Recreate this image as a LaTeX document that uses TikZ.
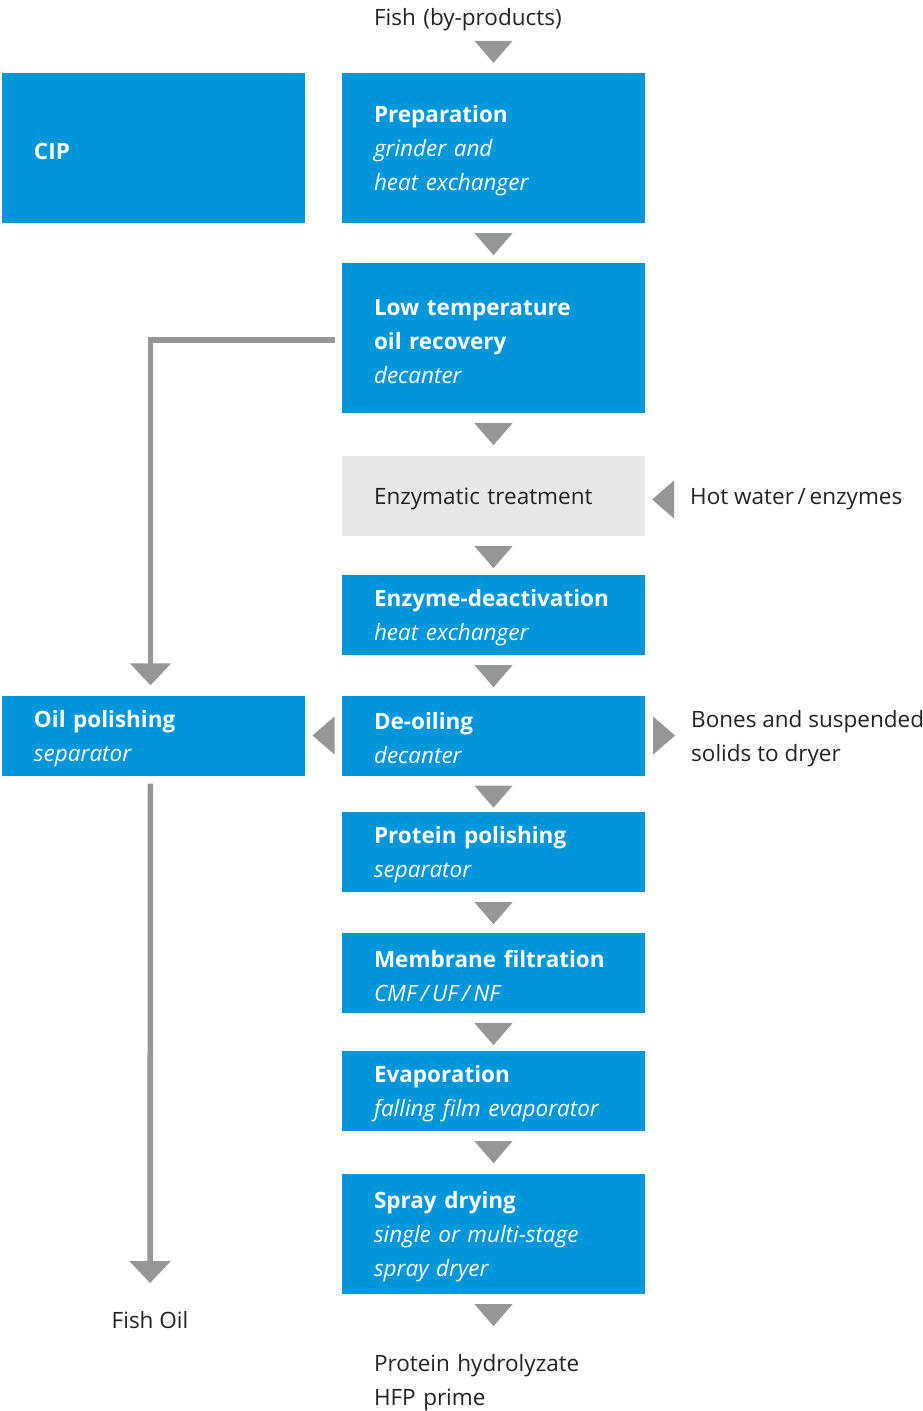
\documentclass[tikz,border=0pt]{standalone}
\usepackage{fontspec}
\setmainfont{Open Sans}
\usetikzlibrary{arrows.meta,decorations.markings}
\definecolor{gblue}{RGB}{0,150,218}
\definecolor{tgray}{RGB}{150,150,150}
\definecolor{lgray}{RGB}{232,232,232}
\definecolor{ink}{RGB}{34,34,34}
\begin{document}
\begin{tikzpicture}[x=1pt, y=-1pt, font=\fontsize{22.5}{34}\selectfont, text=ink,
  proc node/.style={rectangle, fill=gblue, text=white, text width=239pt, inner xsep=32pt, inner ysep=0pt, minimum width=303pt, align=left, execute at begin node={\rule{0pt}{23pt}}},
  grey node/.style={proc node, fill=lgray, text=ink},
  out node/.style={text width=239pt, inner xsep=32pt, inner ysep=0pt, align=left},
  side node/.style={inner xsep=9pt, inner ysep=0pt, align=left, anchor=west},
  flow/.style={postaction={decorate}, decoration={markings, mark=at position #1 with {\fill[tgray] (11pt,0pt) -- (-11pt,19pt) -- (-11pt,-19pt) -- cycle;}}},
  flow/.default=21pt,
  oil line/.style={draw=tgray, line width=5.5pt, -{Triangle[width=40pt,length=22pt]}}]
\useasboundingbox (0,0) rectangle (923,1411);
% main column
\node [out node](fish) at (493.5,19.5) {Fish (by-products)};
\node [proc node,minimum height=150pt](prep) at (493.5,148) {\textbf{Preparation}\\\textit{grinder and}\\\textit{heat exchanger}};
\node [proc node,minimum height=150pt](lowt) at (493.5,338) {\textbf{Low temperature}\\\textbf{oil recovery}\\\textit{decanter}};
\node [grey node,minimum height=80pt](enz) at (493.5,496) {Enzymatic treatment};
\node [proc node,minimum height=80pt](deact) at (493.5,615) {\textbf{Enzyme-deactivation}\\\textit{heat exchanger}};
\node [proc node,minimum height=80pt](deoil) at (493.5,735.5) {\textbf{De-oiling}\\\textit{decanter}};
\node [proc node,minimum height=80pt](prot) at (493.5,852) {\textbf{Protein polishing}\\\textit{separator}};
\node [proc node,minimum height=80pt](memb) at (493.5,973) {\textbf{Membrane filtration}\\\textit{CMF\,/\,UF\,/\,NF}};
\node [proc node,minimum height=80pt](evap) at (493.5,1091) {\textbf{Evaporation}\\\textit{falling film evaporator}};
\node [proc node,minimum height=120pt](spray) at (493.5,1234) {\textbf{Spray drying}\\\textit{single or multi-stage}\\\textit{spray dryer}};
\node [out node](prod) at (493.5,1382.5) {Protein hydrolyzate\\HFP prime};
% left column
\node [proc node,minimum height=150pt](cip) at (153.5,148) {\textbf{CIP}};
\node [proc node,minimum height=80pt](oil) at (153.5,735.5) {\textbf{Oil polishing}\\\textit{separator}};
\node [inner sep=0pt](fishoil) at (150,1320) {Fish Oil};
% right side
\node [side node](hotw) at (681,499.5) {Hot water\,/\,enzymes};
\node [side node,inner xsep=8pt](bones) at (683,738.5) {Bones and suspended\\solids to dryer};
% flow
\path[flow] (fish) -- (prep);
\path[flow] (prep) -- (lowt);
\path[flow] (lowt) -- (enz);
\path[flow] (enz) -- (deact);
\path[flow] (deact) -- (deoil);
\path[flow] (deoil) -- (prot);
\path[flow] (prot) -- (memb);
\path[flow] (memb) -- (evap);
\path[flow] (evap) -- (spray);
\path[flow] (spray) -- (prod);
\path[flow=0.5] (hotw.west) -- (hotw.west -| enz.east);
\path[flow=0.5] (deoil) -- (oil);
\path[flow=0.5] (deoil.east) -- (deoil.east -| bones.west);
% oil
\draw[oil line, shorten >=10pt] ([xshift=-7pt,yshift=-2pt]lowt.west) -| ([xshift=-3pt]oil.north);
\draw[oil line, shorten >=28pt] ([xshift=-3pt,yshift=-8pt]oil.south) -- (fishoil);
\end{tikzpicture}
\end{document}
